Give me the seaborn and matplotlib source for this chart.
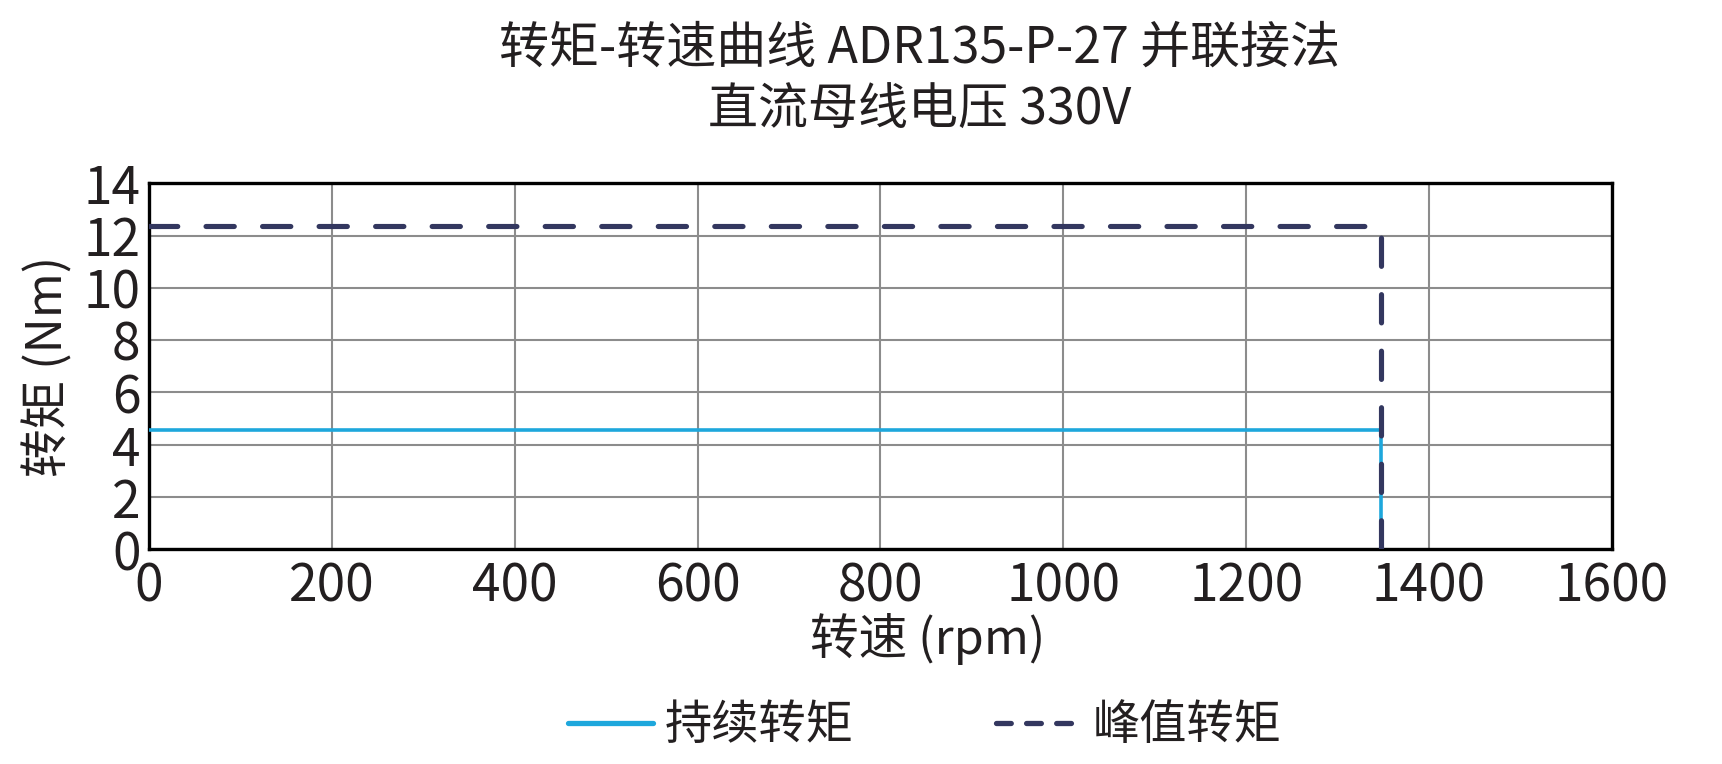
import pandas as pd
import matplotlib
matplotlib.use("Agg")
import matplotlib.pyplot as plt
import seaborn as sns
from matplotlib.lines import Line2D

# 数据
speed = [0, 1348, 1348]
torque_cont = [4.57, 4.57, 0]
torque_peak = [12.35, 12.35, 0]
xticks = [0, 200, 400, 600, 800, 1000, 1200, 1400, 1600]
yticks = [0, 2, 4, 6, 8, 10, 12, 14]
title_lines = ["转矩-转速曲线 ADR135-P-27 并联接法", "直流母线电压 330V"]
series_names = ["持续转矩", "峰值转矩"]

cont_color = "#1EA7DC"
peak_color = "#33375F"
text_color = "#231F20"

sns.set_theme(style="white")
plt.rcParams['font.family'] = ['Noto Sans CJK SC', 'DejaVu Sans']

df_cont = pd.DataFrame({"speed": speed, "torque": torque_cont})
df_peak = pd.DataFrame({"speed": speed, "torque": torque_peak})

fig = plt.figure(figsize=(17.22, 7.64), dpi=100)
ax = fig.add_axes([0.0865, 0.281, 0.8495, 0.479])

sns.lineplot(data=df_cont, x="speed", y="torque", ax=ax, color=cont_color,
             linewidth=2.6, sort=False, estimator=None, zorder=3)
sns.lineplot(data=df_peak, x="speed", y="torque", ax=ax, color=peak_color,
             linewidth=3.7, sort=False, estimator=None, zorder=4,
             linestyle=(0, (5.5, 5.5)), dash_capstyle="round")

ax.set_xlim(0, 1600)
ax.set_ylim(0, 14)
ax.set_xticks(xticks)
ax.set_yticks(yticks)
ax.grid(True, color="#8C8C8C", linewidth=1.5)
ax.tick_params(axis="both", length=0, labelsize=37, colors=text_color)
ax.tick_params(axis="x", pad=8)
ax.tick_params(axis="y", pad=6)
for s in ax.spines.values():
    s.set_color("black")
    s.set_linewidth(2.4)

ax.set_xlabel("转速 (rpm)", fontsize=35, color=text_color, labelpad=-1, x=0.532)
ax.set_ylabel("转矩 (Nm)", fontsize=35, color=text_color, labelpad=7)

fig.text(0.534, 0.937, title_lines[0], ha="center", va="center", fontsize=36, color=text_color)
fig.text(0.534, 0.855, title_lines[1], ha="center", va="center", fontsize=36, color=text_color)

handles = [
    Line2D([], [], color=cont_color, linewidth=3.8),
    Line2D([], [], color=peak_color, linewidth=3.8, linestyle=(0, (2.8, 2.9)), dash_capstyle="round"),
]
fig.legend(handles, series_names, loc="center", bbox_to_anchor=(0.537, 0.05), ncol=2,
           frameon=False, fontsize=34, handlelength=1.8, handletextpad=0.25, columnspacing=3.0,
           labelcolor=text_color)

fig.savefig("out.png", dpi=100)
